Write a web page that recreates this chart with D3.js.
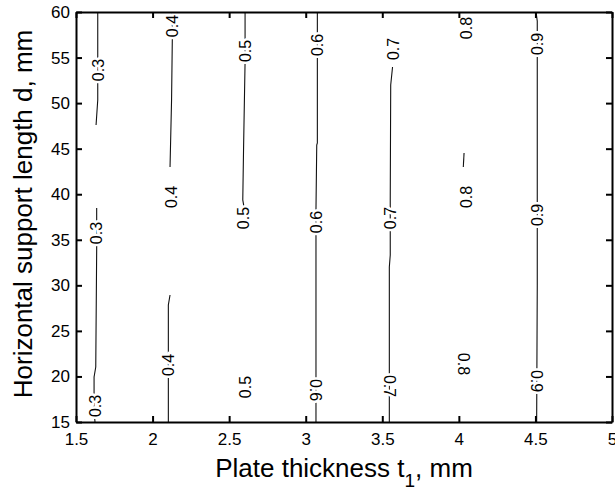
<!DOCTYPE html>
<html>
<head>
<meta charset="utf-8">
<script src="https://cdn.jsdelivr.net/npm/d3@7"></script>
<style>
  body { margin: 0; background: #fff; }
  svg { display: block; font-family: "Liberation Sans", Arial, Helvetica, sans-serif; }
</style>
</head>
<body>
<script>
(function () {
  const xTicks = [1.5, 2, 2.5, 3, 3.5, 4, 4.5, 5];
  const yTicks = [15, 20, 25, 30, 35, 40, 45, 50, 55, 60];

  // visible pieces of each contour line: [level, [[t1, d], ...]]
  const segments = [
    [0.3, [[1.642, 60], [1.642, 50.34], [1.631, 47.6]]],
    [0.3, [[1.635, 38.49], [1.635, 33.88], [1.629, 21.04], [1.618, 19.94], [1.618, 16.3], [1.624, 15]]],
    [0.4, [[2.129, 60], [2.129, 57.15], [2.124, 50.34], [2.114, 42.99]]],
    [0.4, [[2.114, 28.94], [2.103, 27.84], [2.103, 15]]],
    [0.5, [[2.604, 60], [2.604, 54.51], [2.594, 44.85], [2.589, 39.37], [2.597, 38.59]]],
    [0.6, [[3.076, 60], [3.076, 45.62], [3.072, 45.4], [3.067, 38.27], [3.067, 15]]],
    [0.7, [[3.567, 53.96], [3.555, 51.99], [3.552, 39.37], [3.552, 33.33], [3.546, 32.01], [3.546, 15]]],
    [0.8, [[4.034, 44.52], [4.029, 42.99]]],
    [0.9, [[4.504, 60], [4.512, 59.0], [4.512, 30], [4.508, 15]]]
  ];

  // contour labels: [level, t1, d, rotation]
  const labels = [
    [0.3, 1.642, 53.63, -90], [0.3, 1.635, 35.74, -90], [0.3, 1.624, 16.76, -90],
    [0.4, 2.129, 58.46, -90], [0.4, 2.12, 39.70, -90], [0.4, 2.103, 21.26, -90],
    [0.5, 2.604, 55.72, -90], [0.5, 2.595, 37.39, -90], [0.5, 2.604, 18.84, -90],
    [0.6, 3.076, 56.38, -90], [0.6, 3.067, 36.95, -90], [0.6, 3.067, 18.51, 90],
    [0.7, 3.572, 55.94, -90], [0.7, 3.552, 37.39, -90], [0.7, 3.546, 18.95, 90],
    [0.8, 4.051, 58.24, -90], [0.8, 4.045, 39.70, -90], [0.8, 4.034, 21.37, 90],
    [0.9, 4.512, 56.49, -90], [0.9, 4.512, 37.72, -90], [0.9, 4.508, 19.5, 90]
  ];

  const width = 615;
  const height = 492;
  const margin = { top: 12, right: 3, bottom: 70, left: 76 };

  const x = d3.scaleLinear()
    .domain([1.5, 5])
    .range([margin.left, width - margin.right]);

  const y = d3.scaleLinear()
    .domain([15, 60])
    .range([height - margin.bottom, margin.top]);

  const svg = d3.select('body').append('svg')
    .attr('width', width)
    .attr('height', height);

  const line = d3.line()
    .x(d => x(d[0]))
    .y(d => y(d[1]));

  svg.append('g')
    .selectAll('path')
    .data(segments)
    .enter()
    .append('path')
    .attr('fill', 'none')
    .attr('stroke', '#111')
    .attr('stroke-width', 1.1)
    .attr('d', d => line(d[1]));

  const fmt = d3.format('.1f');

  svg.append('g')
    .selectAll('text')
    .data(labels)
    .enter()
    .append('text')
    .attr('transform', d => `translate(${x(d[1])},${y(d[2])}) rotate(${d[3]})`)
    .attr('text-anchor', 'middle')
    .attr('dy', '0.36em')
    .attr('font-size', 16)
    .attr('fill', '#000')
    .attr('stroke', '#fff')
    .attr('stroke-width', 5)
    .attr('paint-order', 'stroke')
    .text(d => fmt(d[0]));

  const tickFmt = d3.format('~g');

  const bottom = svg.append('g')
    .attr('transform', `translate(0,${height - margin.bottom})`)
    .call(d3.axisBottom(x).tickValues(xTicks).tickFormat(tickFmt)
      .tickSizeInner(-6).tickSizeOuter(0).tickPadding(11));

  const left = svg.append('g')
    .attr('transform', `translate(${margin.left},0)`)
    .call(d3.axisLeft(y).tickValues(yTicks).tickFormat(tickFmt)
      .tickSizeInner(-6).tickSizeOuter(0).tickPadding(6));

  const top = svg.append('g')
    .attr('transform', `translate(0,${margin.top})`)
    .call(d3.axisTop(x).tickValues(xTicks).tickFormat('')
      .tickSizeInner(-6).tickSizeOuter(0));

  const right = svg.append('g')
    .attr('transform', `translate(${width - margin.right},0)`)
    .call(d3.axisRight(y).tickValues(yTicks).tickFormat('')
      .tickSizeInner(-6).tickSizeOuter(0));

  [bottom, left, top, right].forEach(g => {
    g.select('.domain').attr('stroke', '#000').attr('stroke-width', 2);
    g.selectAll('.tick line').attr('stroke', '#000').attr('stroke-width', 2);
    g.selectAll('.tick text')
      .attr('fill', '#000')
      .attr('font-size', 17)
      .attr('font-family', '"Liberation Sans", Arial, sans-serif');
  });

  const xLabel = svg.append('text')
    .attr('x', (margin.left + width - margin.right) / 2)
    .attr('y', 477)
    .attr('text-anchor', 'middle')
    .attr('font-size', 26)
    .attr('fill', '#000');
  xLabel.append('tspan').text('Plate thickness t');
  xLabel.append('tspan').attr('font-size', 19).attr('dy', 10).text('1');
  xLabel.append('tspan').attr('dy', -10).text(', mm');

  svg.append('text')
    .attr('transform', `translate(32,${(margin.top + height - margin.bottom) / 2 - 3}) rotate(-90)`)
    .attr('text-anchor', 'middle')
    .attr('font-size', 26)
    .attr('fill', '#000')
    .text('Horizontal support length d, mm');
})();
</script>
</body>
</html>
